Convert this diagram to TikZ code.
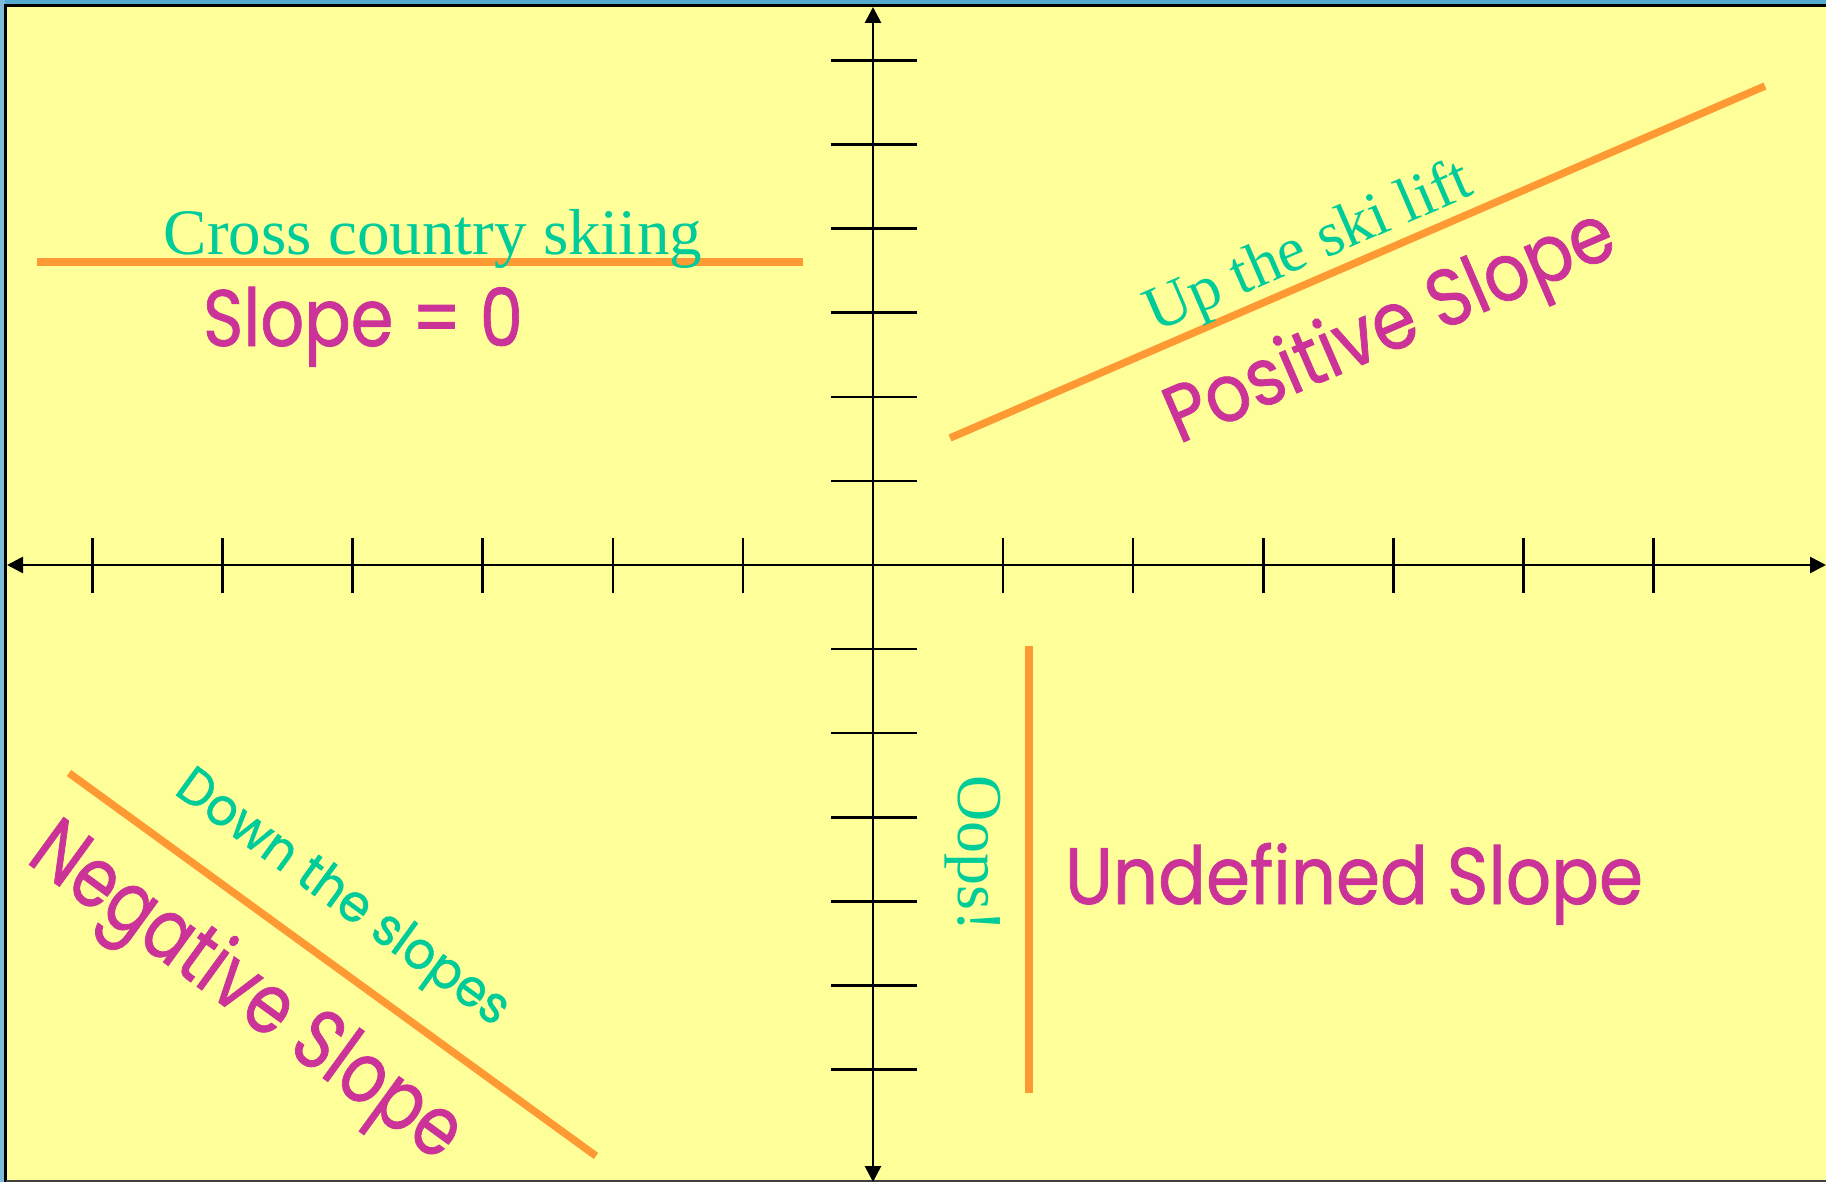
\documentclass[tikz,border=0pt]{standalone}
\usepackage{fontspec}
\usepackage{graphicx}
\usetikzlibrary{arrows.meta}
\setmainfont{Liberation Serif}
\newfontfamily\comicfont{Poppins}[FakeBold=1]
\definecolor{bgyellow}{HTML}{FFFF99}
\definecolor{topblue}{HTML}{55AACF}
\definecolor{leftblue}{HTML}{7DBBDB}
\definecolor{skigreen}{HTML}{00CC99}
\definecolor{slopemag}{HTML}{CC3399}
\definecolor{lineorange}{HTML}{FF9933}
\newcommand\cmc[3]{\resizebox{#1}{\height}{\fontsize{#2pt}{#2pt}\selectfont\comicfont #3}}
\begin{document}
\begin{tikzpicture}[x=1pt,y=-1pt,
  axisline/.style={black,line width=2.7pt},
  arrowtip/.style={-{Triangle[width=16pt,length=16pt]}},
  tickline/.style={black,line width=2.5pt},
  skiline/.style={lineorange,line width=7.5pt},
  greentext/.style={text=skigreen,inner sep=0pt},
  magtext/.style={text=slopemag,inner sep=0pt}]
\useasboundingbox (0,0) rectangle (1826,1182);
\fill[bgyellow] (0,0) rectangle (1826,1182);
\fill[topblue] (0,0) rectangle (1826,4.5);
\fill[leftblue] (0,0) rectangle (4.5,1182);
\draw[black,line width=3pt] (1826,5.7) -- (5.7,5.7) -- (5.7,1182);
\draw[black!75,line width=2pt] (5.7,1181) -- (1826,1181);
% axes
\coordinate (o) at (873,565);
\coordinate (xl) at (7,565);
\coordinate (xr) at (1826,565);
\coordinate (yt) at (873,7);
\coordinate (yb) at (873,1182);
\draw[axisline,arrowtip] (o) -- (xl);
\draw[axisline,arrowtip] (o) -- (xr);
\draw[axisline,arrowtip] (o) -- (yt);
\draw[axisline,arrowtip] (o) -- (yb);
\foreach \i in {-6,-5,-4,-3,-2,-1,1,2,3,4,5,6}{
  \draw[tickline] ({873+130.1*\i},538) -- ({873+130.1*\i},593);
  \draw[tickline] (831,{565+84.1*\i}) -- (917,{565+84.1*\i});
}
% orange lines
\coordinate (h1) at (37,262);
\coordinate (h2) at (803,262);
\coordinate (p1) at (950,438);
\coordinate (p2) at (1765,86);
\coordinate (n1) at (69,773);
\coordinate (n2) at (596,1156);
\coordinate (v1) at (1029,646);
\coordinate (v2) at (1029,1093);
\draw[skiline] (h1) -- (h2);
\draw[skiline] (p1) -- (p2);
\draw[skiline] (n1) -- (n2);
\draw[skiline] (v1) -- (v2);
% texts
\node[greentext,anchor=base,font=\fontsize{65pt}{65pt}\selectfont] (cross) at (433,255) {Cross country skiing};
\node[magtext,anchor=base] (slope0) at (363,346) {\cmc{320pt}{80}{Slope = 0}};
\node[greentext,anchor=base,rotate=23.4,font=\fontsize{63pt}{63pt}\selectfont] (up) at (1315.6,263.1) {Up the ski lift};
\node[magtext,anchor=base,rotate=23.4] (pos) at (1399.6,348.7) {\cmc{481pt}{80}{Positive Slope}};
\node[greentext,anchor=base,rotate=-36] (down) at (334,910) {\cmc{398pt}{52}{Down the slopes}};
\node[magtext,anchor=base,rotate=-36] (neg) at (232,1012) {\cmc{512pt}{84}{Negative Slope}};
\node[greentext,anchor=base,rotate=-90,font=\fontsize{64pt}{64pt}\selectfont] (oops) at (958,854) {Oops!};
\node[magtext,anchor=base] (undef) at (1354,904) {\cmc{578pt}{80}{Undefined Slope}};
\end{tikzpicture}
\end{document}
